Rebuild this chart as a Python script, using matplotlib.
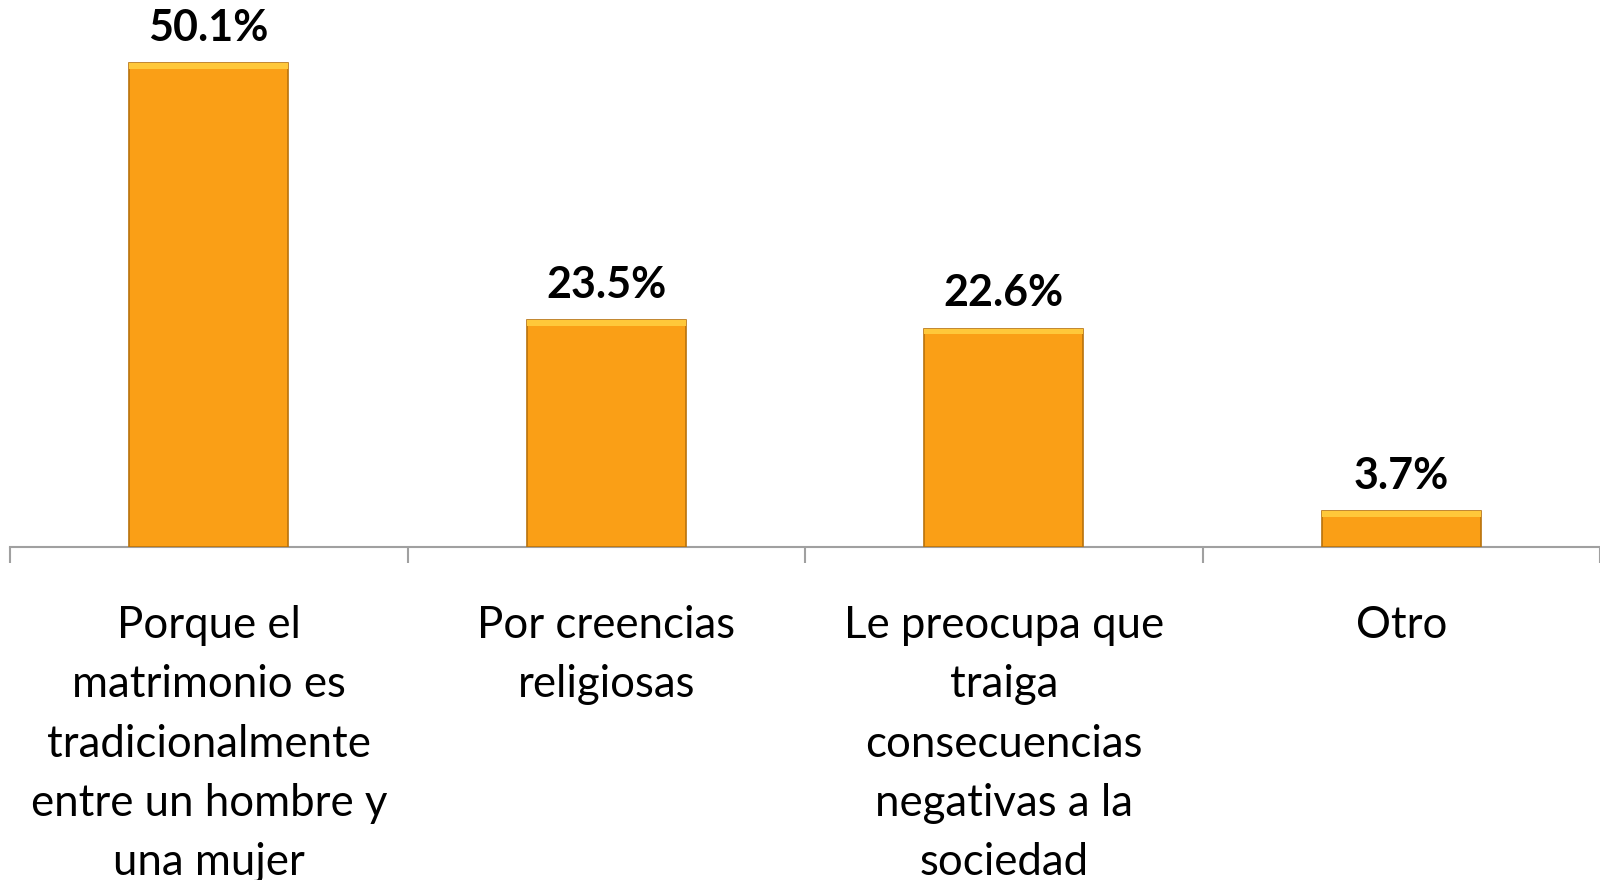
import matplotlib
matplotlib.use("Agg")
import matplotlib.pyplot as plt

categories = [
    "Porque el\nmatrimonio es\ntradicionalmente\nentre un hombre y\nuna mujer",
    "Por creencias\nreligiosas",
    "Le preocupa que\ntraiga\nconsecuencias\nnegativas a la\nsociedad",
    "Otro",
]
values = [50.1, 23.5, 22.6, 3.7]
value_labels = ["50.1%", "23.5%", "22.6%", "3.7%"]

plt.rcParams['font.family'] = ['Lato', 'DejaVu Sans']

fig = plt.figure(figsize=(16, 8.8), dpi=100)
ax = fig.add_axes([10/1600, 1 - 547/880, 1 - 10/1600, 547/880])

x = list(range(len(categories)))
bars = ax.bar(x, values, width=0.4, color='#FA9F16', edgecolor='#B8720C', linewidth=1.2, zorder=3)
# top highlight (bevel)
for b, v in zip(bars, values):
    ax.bar(b.get_x() + b.get_width()/2, 0.6, bottom=v - 0.6, width=0.4,
           color='#FFC83A', linewidth=0, zorder=4)

for xi, v, lab in zip(x, values, value_labels):
    ax.annotate(lab, (xi, v), xytext=(0, 11), textcoords='offset points',
                ha='center', va='bottom', fontsize=31, fontweight='bold', color='black')

ax.set_xlim(-0.5, 3.5)
ax.set_ylim(0, 56.6)
ax.set_yticks([])
for s in ['top', 'right', 'left']:
    ax.spines[s].set_visible(False)
ax.spines['bottom'].set_color('#A0A0A0')
ax.spines['bottom'].set_linewidth(1.5)

ax.set_xticks(x)
ax.set_xticklabels(categories, fontsize=31.5, linespacing=1.55, va='top')
ax.tick_params(axis='x', which='major', length=0, pad=42)
ax.set_xticks([-0.5, 0.5, 1.5, 2.5, 3.5], minor=True)
ax.tick_params(axis='x', which='minor', length=11.5, width=1.5, color='#A0A0A0')

fig.savefig('out.png', dpi=100)
